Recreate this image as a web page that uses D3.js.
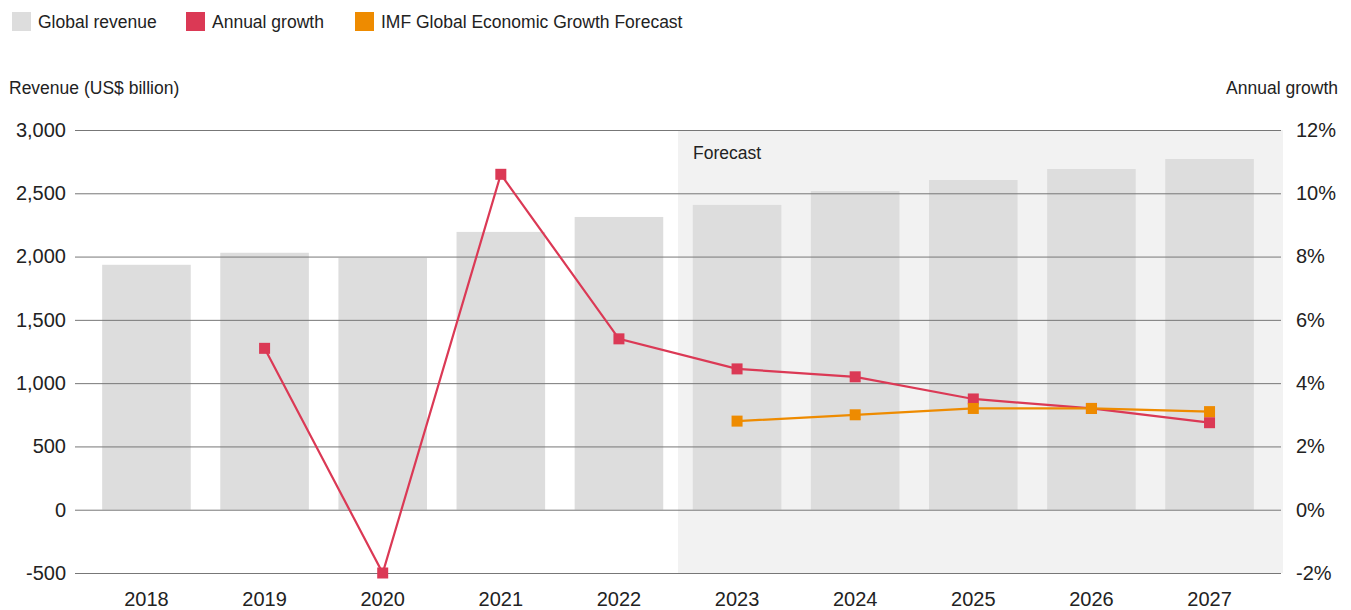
<!DOCTYPE html>
<html>
<head>
<meta charset="utf-8">
<script src="https://cdn.jsdelivr.net/npm/d3@7"></script>
<style>
  body { margin: 0; background: #fff; }
  svg text { font-family: "Liberation Sans", Arial, sans-serif; fill: #222; }
</style>
</head>
<body>
<script>
const years = ["2018", "2019", "2020", "2021", "2022", "2023", "2024", "2025", "2026", "2027"];
const revenue = [1935, 2030, 1990, 2195, 2313, 2408, 2518, 2605, 2692, 2771];
const growth = [null, 5.1, -2.0, 10.6, 5.4, 4.45, 4.2, 3.5, 3.2, 2.75];
const imf = [null, null, null, null, null, 2.8, 3.0, 3.2, 3.2, 3.1];
const forecastFrom = "2023";
const leftTicks = [-500, 0, 500, 1000, 1500, 2000, 2500, 3000];
const rightTicks = [-2, 0, 2, 4, 6, 8, 10, 12];

const width = 1351, height = 610;
const plotL = 75, plotR = 1281, plotT = 130, plotB = 573;

const svg = d3.select("body").append("svg")
    .attr("width", width)
    .attr("height", height);

const x = d3.scaleBand().domain(years).range([plotL, plotR])
    .paddingInner(0.25).paddingOuter(0.23);
const y = d3.scaleLinear().domain([-500, 3000]).range([plotB, plotT]);
const y2 = d3.scaleLinear().domain([-2, 12]).range([plotB, plotT]);

// forecast shading
const fx = x(forecastFrom) - x.step() * x.paddingInner() / 2;
svg.append("rect")
    .attr("x", fx).attr("y", plotT)
    .attr("width", plotR + 2 - fx).attr("height", plotB - plotT)
    .attr("fill", "#f2f2f2");
svg.append("text")
    .attr("x", fx + 15).attr("y", plotT + 29)
    .attr("font-size", 17.5)
    .text("Forecast");

// bars
svg.selectAll(".bar").data(years).join("rect")
    .attr("x", d => x(d))
    .attr("width", x.bandwidth())
    .attr("y", (d, i) => y(revenue[i]))
    .attr("height", (d, i) => y(0) - y(revenue[i]))
    .attr("fill", "#dddddd");

// grid + left axis
const fmt = d3.format(",");
const gy = svg.append("g").attr("transform", `translate(${plotL},0)`)
    .call(d3.axisLeft(y).tickValues(leftTicks).tickSize(-(plotR - plotL))
        .tickPadding(9).tickFormat(d => d < 0 ? "-" + fmt(-d) : fmt(d)));
gy.select(".domain").remove();
gy.selectAll(".tick line").attr("stroke", "#777");
gy.selectAll(".tick text").attr("font-size", 20).attr("fill", "#111");

const gy2 = svg.append("g").attr("transform", `translate(${plotR},0)`)
    .call(d3.axisRight(y2).tickValues(rightTicks).tickSize(0)
        .tickPadding(15).tickFormat(d => d + "%"));
gy2.select(".domain").remove();
gy2.selectAll(".tick text").attr("font-size", 20).attr("fill", "#111");

const gx = svg.append("g").attr("transform", `translate(0,${plotB})`)
    .call(d3.axisBottom(x).tickSize(0).tickPadding(19));
gx.select(".domain").remove();
gx.selectAll(".tick text").attr("font-size", 20).attr("fill", "#111");

// lines
function series(vals, color) {
  const pts = years.map((d, i) => ({ d, v: vals[i] })).filter(p => p.v !== null);
  const cx = p => x(p.d) + x.bandwidth() / 2;
  svg.append("path")
      .attr("d", d3.line().x(cx).y(p => y2(p.v))(pts))
      .attr("fill", "none").attr("stroke", color).attr("stroke-width", 2.2);
  svg.selectAll(null).data(pts).join("rect")
      .attr("x", p => cx(p) - 5.5).attr("y", p => y2(p.v) - 5.5)
      .attr("width", 11).attr("height", 11)
      .attr("fill", color);
}
series(growth, "#db3955");
series(imf, "#ee8b00");

// axis titles
svg.append("text").attr("x", 9).attr("y", 94).attr("font-size", 17.5)
    .text("Revenue (US$ billion)");
svg.append("text").attr("x", 1338).attr("y", 94).attr("font-size", 17.5)
    .attr("text-anchor", "end").text("Annual growth");

// legend
const legend = [
  { label: "Global revenue", color: "#dddddd", x: 12 },
  { label: "Annual growth", color: "#db3955", x: 186 },
  { label: "IMF Global Economic Growth Forecast", color: "#ee8b00", x: 355 }
];
const lg = svg.selectAll(".lg").data(legend).join("g")
    .attr("transform", d => `translate(${d.x},12)`);
lg.append("rect").attr("width", 19).attr("height", 19).attr("fill", d => d.color);
lg.append("text").attr("x", 26).attr("y", 16).attr("font-size", 17.5)
    .text(d => d.label);
</script>
</body>
</html>
